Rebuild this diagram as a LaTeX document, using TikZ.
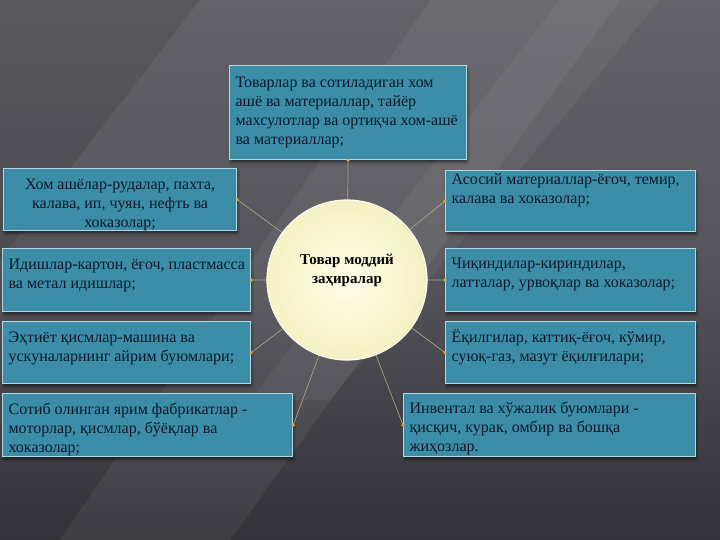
\documentclass[tikz,border=0pt]{standalone}
\usepackage{fontspec}
\setmainfont{Liberation Serif}
\usetikzlibrary{arrows.meta,shadows.blur}
\definecolor{boxfill}{RGB}{60,141,168}
\definecolor{boxline}{RGB}{178,216,226}
\definecolor{txtcol}{RGB}{12,24,42}
\definecolor{conncol}{RGB}{196,188,140}
\definecolor{tipcol}{RGB}{235,165,50}
\definecolor{bgtop}{RGB}{98,98,104}
\definecolor{bgmid}{RGB}{84,84,90}
\definecolor{bgbot}{RGB}{50,50,56}
\definecolor{cin}{RGB}{255,254,232}
\definecolor{cout}{RGB}{245,241,196}
\newcommand\ltx[2]{\makebox[#1pt][l]{\begin{tabular}[t]{@{}l@{}}#2\end{tabular}}}
\newcommand\ctx[2]{\makebox[#1pt][c]{\begin{tabular}[t]{@{}c@{}}#2\end{tabular}}}
\pgfdeclarelayer{lines}
\pgfdeclarelayer{fg}
\pgfsetlayers{main,lines,fg}
\tikzset{
  box/.style={draw=boxline, line width=1.2pt, fill=boxfill, text=txtcol,
    font=\fontsize{16}{19}\selectfont, inner xsep=6pt, inner ysep=0pt,
    anchor=north west,
    blur shadow={shadow xshift=1pt, shadow yshift=-3pt, shadow opacity=45, shadow blur steps=6}},
  hub/.style={circle, minimum size=160pt, inner sep=0pt, draw=white!80!cout,
    line width=1.2pt, inner color=cin, outer color=cout, text=black,
    font=\fontsize{15}{19}\selectfont\bfseries},
  link/.style={draw=conncol, draw opacity=0.75, line width=0.7pt,
    -{Circle[length=3.5pt,color=tipcol]}, shorten >=-1.75pt},
}
\begin{document}
\begin{tikzpicture}[x=1pt,y=-1pt]
\useasboundingbox (0,0) rectangle (720,540);
% background
\shade[top color=bgtop, bottom color=bgbot, middle color=bgmid] (0,0) rectangle (720,540);
\fill[white, opacity=0.06] (430,0) -- (620,0) -- (230,540) -- (60,540) -- cycle;
\fill[white, opacity=0.05] (560,0) -- (660,0) -- (330,400) -- (250,400) -- cycle;
\fill[black, opacity=0.10] (0,0) -- (200,0) -- (0,260) -- cycle;

% boxes
\node[box, text height=21.5pt, text depth=72.5pt] (tp) at (229,65)
  {\ltx{225}{Товарлар ва сотиладиган хом\\ашё ва материаллар, тайёр\\махсулотлар ва ортиқча хом-ашё\\ва материаллар;}};
\node[box, text height=21pt, text depth=41pt] (l1) at (3,168)
  {\ctx{221}{Хом ашёлар-рудалар, пахта,\\калава, ип, чуян, нефть ва\\хоказолар;}};
\node[box, text height=14pt, text depth=47pt] (r1) at (445,170)
  {\ltx{238}{Асосий материаллар-ёғоч, темир,\\калава ва хоказолар;}};
\node[box, text height=21pt, text depth=42pt] (l2) at (2,248)
  {\ltx{236}{Идишлар-картон, ёғоч, пластмасса\\ва метал идишлар;}};
\node[box, text height=21pt, text depth=41pt] (l3) at (2,321)
  {\ltx{236}{Эҳтиёт қисмлар-машина ва\\ускуналарнинг айрим буюмлари;}};
\node[box, text height=20pt, text depth=43pt] (r2) at (445,248)
  {\ltx{238}{Чиқиндилар-кириндилар,\\латталар, урвоқлар ва хоказолар;}};
\node[box, text height=21pt, text depth=41pt] (r3) at (445,321)
  {\ltx{238}{Ёқилгилар, каттиқ-ёғоч, кўмир,\\суюқ-газ, мазут ёқилғилари;}};
\node[box, text height=21pt, text depth=42pt] (l4) at (2,393)
  {\ltx{278}{Сотиб олинган ярим фабрикатлар -\\моторлар, қисмлар, бўёқлар ва\\хоказолар;}};
\node[box, text height=20pt, text depth=43pt] (r4) at (403,393)
  {\ltx{280}{Инвентал ва хўжалик буюмлари -\\қисқич, курак, омбир ва бошқа\\жиҳозлар.}};

% hub
\begin{pgfonlayer}{fg}
\node[hub, text height=14pt, text depth=46pt] (c) at (347,280)
  {\ctx{140}{Товар моддий\\заҳиралар}};
\end{pgfonlayer}

% connectors
\begin{pgfonlayer}{lines}
\draw[link] (c.center) -- (tp.south);
\draw[link] (c.center) -- (l1.east);
\draw[link] (c.center) -- (r1.west);
\draw[link] (c.center) -- (l2.east);
\draw[link] (c.center) -- (r2.west);
\draw[link] (c.center) -- (l3.east);
\draw[link] (c.center) -- (r3.west);
\draw[link] (c.center) -- (l4.east);
\draw[link] (c.center) -- (r4.west);
\end{pgfonlayer}
\end{tikzpicture}
\end{document}
